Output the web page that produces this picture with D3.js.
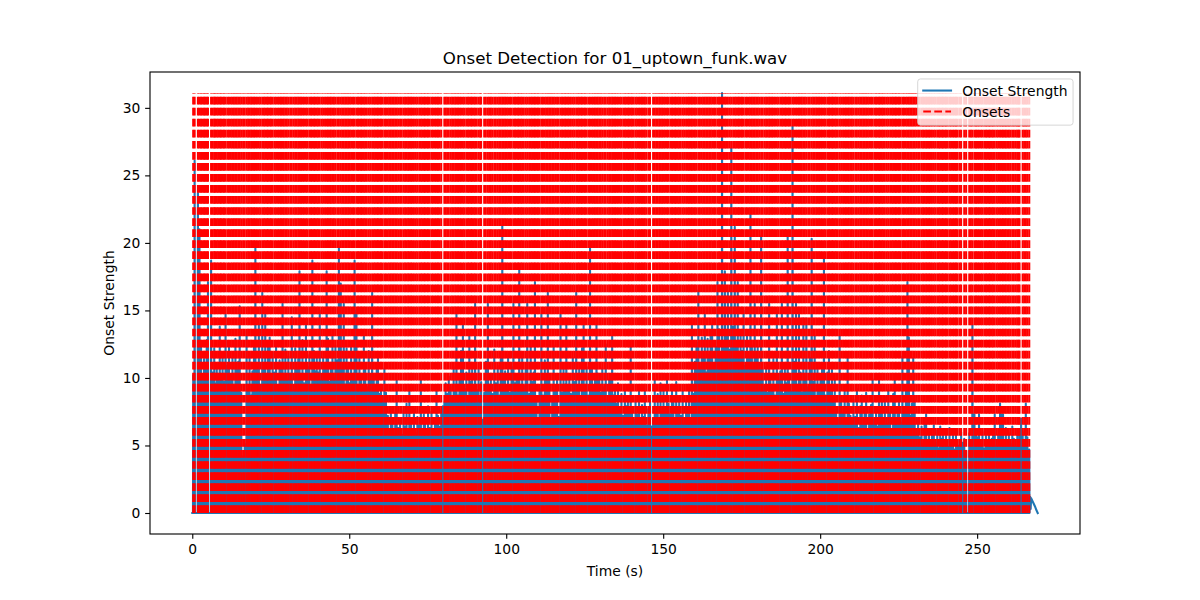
<!DOCTYPE html>
<html><head><meta charset="utf-8">
<script src="https://cdn.jsdelivr.net/npm/d3@7"></script>
<style>body{margin:0;background:#fff}svg{display:block}text{font-family:"DejaVu Sans",sans-serif}</style>
</head><body><svg id="c" width="1200" height="600"></svg>
<script>
const chartTitle = "Onset Detection for 01_uptown_funk.wav";
const xLabel = "Time (s)";
const yLabel = "Onset Strength";
const legendLabels = ["Onset Strength", "Onsets"];
const xTicks = [0, 50, 100, 150, 200, 250];
const yTicks = [0, 5, 10, 15, 20, 25, 30];

// detected onset times (s)
const onsetTimes = [
0.3,0.75,1.8,2.3,2.8,3.25,3.75,4.15,4.6,5.0,6.0,6.5,7.0,7.3,7.8,8.25,8.75,9.15,9.65,
10.1,10.6,11.2,11.7,12.3,12.8,13.25,13.75,14.15,14.65,15.1,15.6,16.2,16.7,17.3,17.8,18.25,18.75,19.15,19.65,
20.1,20.6,21.2,21.7,22.3,22.8,23.25,23.75,24.15,24.65,25.1,25.6,26.2,26.7,27.3,27.8,28.25,28.75,29.15,29.65,
30.1,30.6,31.2,31.7,32.3,32.8,33.25,33.75,34.15,34.65,35.1,35.6,36.2,36.7,37.3,37.8,38.25,38.75,39.15,39.65,
40.1,40.6,41.2,41.7,42.3,42.8,43.25,43.75,44.15,44.65,45.1,45.6,46.2,46.7,47.3,47.8,48.25,48.75,49.15,49.65,
50.1,50.6,51.2,51.7,52.3,52.8,53.25,53.75,54.15,54.65,55.1,55.6,56.2,56.7,57.3,57.8,58.25,58.75,59.15,59.65,
60.1,60.6,61.2,61.7,62.3,62.8,63.25,63.75,64.15,64.65,65.1,65.6,66.2,66.7,67.3,67.8,68.25,68.75,69.15,69.65,
70.1,70.6,71.2,71.7,72.3,72.8,73.25,73.75,74.15,74.65,75.1,75.6,76.2,76.7,77.3,77.8,78.25,78.75,79.3,
80.3,80.7,81.2,81.7,82.3,82.8,83.25,83.75,84.15,84.65,85.1,85.6,86.2,86.7,87.3,87.8,88.25,88.75,89.15,89.65,
90.1,90.6,91.2,91.7,92.0,93.0,93.5,94.15,94.65,95.1,95.6,96.2,96.7,97.3,97.8,98.25,98.75,99.15,99.65,
100.1,100.6,101.2,101.7,102.3,102.8,103.25,103.75,104.15,104.65,105.1,105.6,106.2,106.7,107.3,107.8,108.25,108.75,109.15,109.65,
110.1,110.6,111.2,111.7,112.3,112.8,113.25,113.75,114.15,114.65,115.1,115.6,116.2,116.7,117.3,117.8,118.25,118.75,119.15,119.65,
120.1,120.6,121.2,121.7,122.3,122.8,123.25,123.75,124.15,124.65,125.1,125.6,126.2,126.7,127.3,127.8,128.25,128.75,129.15,129.65,
130.1,130.6,131.2,131.7,132.3,132.8,133.25,133.75,134.15,134.65,135.1,135.6,136.2,136.7,137.3,137.8,138.25,138.75,139.15,139.65,
140.1,140.6,141.2,141.7,142.3,142.8,143.25,143.75,144.15,144.65,145.3,145.8,146.8,147.3,147.8,148.25,148.75,149.15,149.65,
150.1,150.6,151.2,151.7,152.3,152.8,153.25,153.75,154.15,154.65,155.1,155.6,156.2,156.7,157.3,157.8,158.25,158.75,159.15,159.65,
160.1,160.6,161.2,161.7,162.3,162.8,163.25,163.75,164.15,164.65,165.1,165.6,166.2,166.7,167.3,167.8,168.25,168.75,169.15,169.65,
170.1,170.6,171.2,171.7,172.3,172.8,173.25,173.75,174.15,174.65,175.1,175.6,176.2,176.7,177.3,177.8,178.25,178.75,179.15,179.65,
180.1,180.6,181.2,181.7,182.3,182.8,183.25,183.75,184.15,184.65,185.1,185.6,186.2,186.7,187.3,187.8,188.25,188.75,189.15,189.65,
190.1,190.6,191.2,191.7,192.3,192.8,193.25,193.75,194.15,194.65,195.1,195.6,196.2,196.7,197.3,197.8,198.25,198.75,199.15,199.65,
200.1,200.6,201.2,201.7,202.3,202.8,203.25,203.75,204.15,204.65,205.1,205.6,206.2,206.7,207.3,207.8,208.25,208.75,209.15,209.65,
210.1,210.6,211.2,211.7,212.3,212.8,213.25,213.75,214.15,214.65,215.1,215.6,216.2,216.7,217.3,217.8,218.25,218.75,219.15,219.65,
220.1,220.6,221.2,221.7,222.3,222.8,223.25,223.75,224.15,224.65,225.1,225.6,226.2,226.7,227.3,227.8,228.25,228.75,229.15,229.65,
230.1,230.6,231.2,231.7,232.3,232.8,233.25,233.75,234.15,234.65,235.1,235.6,236.2,236.7,237.3,237.8,238.25,238.75,239.15,239.65,
240.1,240.6,241.2,241.7,242.3,242.8,243.25,243.75,244.4,244.9,245.9,246.5,247.5,248.0,248.5,249.15,249.65,
250.1,250.6,251.2,251.7,252.3,252.8,253.25,253.75,254.15,254.65,255.1,255.6,256.2,256.7,257.3,257.8,258.25,258.75,259.15,259.65,
260.1,260.6,261.2,261.7,262.3,262.8,263.2,263.5,264.5,265.0,265.5,266.0,266.6
];
// onset strength at each onset (peak of the envelope)
const onsetStrength = [
10.2,26.1,23.7,21.0,12.5,9.8,11.4,10.6,12.8,17.1,18.7,10.4,12.2,9.6,11.0,10.1,13.8,9.9,11.7,
9.7,14.7,10.9,12.3,10.2,11.5,9.4,12.9,10.6,11.2,15.3,8.9,4.2,5.1,13.5,9.2,11.8,8.7,10.5,12.4,
19.6,10.8,14.0,9.5,16.3,11.1,15.2,10.0,12.6,13.0,9.8,11.9,10.4,12.7,9.3,11.3,10.9,15.5,10.2,12.1,
9.9,11.6,10.3,14.5,9.1,12.2,10.7,11.4,17.9,10.1,12.8,9.6,14.1,10.8,11.7,9.4,18.7,12.0,10.5,11.9,
10.4,15.0,9.8,11.5,11.0,17.9,12.9,9.7,11.1,13.2,10.0,12.4,11.3,19.7,17.0,10.6,15.5,9.5,12.2,10.8,
9.6,12.7,10.3,18.7,15.0,9.4,11.8,10.1,9.0,13.1,10.7,9.3,12.0,9.8,16.3,10.2,9.1,10.6,11.5,8.8,
9.4,8.6,10.7,8.9,7.2,6.1,7.8,6.6,5.9,7.4,9.8,6.3,7.0,5.8,7.6,6.4,8.1,6.0,9.1,6.9,
6.2,7.7,5.9,7.1,6.5,9.9,6.0,7.3,6.8,5.7,7.9,6.3,7.5,6.1,6.9,9.1,7.2,6.4,7.6,
8.2,9.6,8.8,10.1,9.3,8.5,10.8,9.0,14.7,8.7,9.9,12.0,14.0,9.2,10.4,8.6,13.1,9.7,11.0,9.4,
15.5,9.1,10.6,8.4,9.7,8.9,11.2,15.5,9.5,10.3,8.8,12.1,9.6,10.9,8.7,11.4,21.3,9.9,10.5,
9.3,11.7,8.9,10.8,15.5,9.6,9.9,10.2,18.0,9.0,11.9,9.4,10.6,15.5,8.8,12.3,9.7,10.4,17.1,8.6,
7.0,9.2,14.7,8.7,11.3,9.9,16.3,9.8,6.8,8.6,12.4,9.1,10.2,7.1,14.7,8.9,10.7,9.5,14.0,9.3,
10.1,8.8,11.5,9.7,16.3,9.0,10.6,8.5,12.2,14.0,9.4,10.8,8.7,19.6,11.1,9.2,9.9,14.0,10.3,9.8,
8.9,10.7,9.3,12.5,8.4,9.9,10.2,13.1,8.7,9.0,8.1,9.6,7.6,8.8,7.2,9.1,7.9,8.3,7.4,12.3,
7.8,6.9,8.6,7.3,9.4,6.7,8.0,7.1,9.0,6.5,7.7,8.3,7.0,9.9,7.4,8.8,6.8,9.6,7.5,
9.2,7.6,9.9,8.1,7.3,9.5,8.4,6.9,9.7,7.8,8.6,7.2,9.0,6.6,8.3,7.5,9.3,7.0,14.0,8.8,
11.2,12.6,16.5,10.8,13.0,11.5,14.7,10.4,12.9,11.7,13.4,14.0,10.9,12.3,17.1,13.6,11.8,31.1,12.5,17.9,
13.2,16.4,12.1,27.0,13.8,21.2,12.7,17.1,11.4,13.5,12.0,15.0,10.9,13.1,11.6,22.1,12.4,10.7,15.5,11.9,
12.3,11.1,20.5,10.6,9.4,10.8,8.9,15.5,10.2,9.1,11.4,8.7,15.0,9.8,10.5,15.5,8.8,11.0,9.6,20.5,
10.3,9.0,28.6,11.2,15.5,9.5,15.0,10.4,8.9,14.4,10.1,14.4,9.3,11.5,20.3,9.7,13.1,8.6,10.8,9.2,
9.8,10.9,18.9,8.7,10.4,12.0,9.1,10.6,8.5,9.9,7.8,6.9,13.1,8.2,7.4,9.0,6.7,11.6,8.1,7.2,
6.8,8.4,7.1,9.2,6.3,7.9,8.7,6.5,7.6,8.9,6.1,7.3,8.0,9.9,6.9,7.7,6.4,9.8,7.5,8.3,
7.0,8.6,6.6,9.1,7.4,6.2,8.8,10.0,6.9,7.8,8.3,6.7,11.6,7.5,9.3,17.1,13.0,7.2,8.1,11.5,
8.6,6.2,7.0,5.6,6.4,5.1,6.7,7.3,5.4,6.0,4.9,5.8,6.5,5.2,6.1,4.8,6.4,5.5,5.9,5.0,
5.7,4.9,6.3,5.2,5.8,4.7,6.1,5.4,5.0,6.0,5.5,4.6,5.9,5.3,13.9,7.3,6.2,
5.6,7.3,5.1,6.0,4.8,5.7,5.3,6.2,4.9,5.5,6.1,7.3,5.0,5.8,8.1,7.3,7.3,5.4,6.3,5.2,
5.9,5.1,6.4,5.5,4.9,6.2,5.3,5.8,6.0,5.4,8.1,5.6,4.7
];
// envelope peaks between onsets that did not trigger an onset
const gapPeakTimes = [79.8, 92.5, 146.3, 245.4, 264.0];
const gapPeakValues = [7.9, 6.9, 6.4, 5.2, 7.0];
// start and decaying tail of the envelope
const edgeTimes = [0, 266.9, 267.05, 267.2, 267.8, 268.4, 268.9, 269.3];
const edgeValues = [0, 1.2, 0.3, 1.1, 0.8, 0.5, 0.2, 0];

// ---------- layout / style ----------
const PT = 100 / 72;
const L = 150, R = 1080, T = 72, B = 534;
const lw = 1.5 * PT;
const spikeHalfWidth = 0.08;
const blue = "#1f77b4", red = "#ff0000";
const dash = [3.7 * 1.5 * PT, 1.6 * 1.5 * PT];
const fs = 10 * PT;

const n = Math.min(onsetTimes.length, onsetStrength.length);
const pts = [];
for (let i = 0; i < n; i++) {
  const t = onsetTimes[i], v = onsetStrength[i];
  pts.push([t - spikeHalfWidth, 0], [t, v], [t + spikeHalfWidth, 0]);
}
gapPeakTimes.forEach((t, i) => pts.push([t - spikeHalfWidth, 0], [t, gapPeakValues[i]], [t + spikeHalfWidth, 0]));
edgeTimes.forEach((t, i) => pts.push([t, edgeValues[i]]));
pts.sort((a, b) => a[0] - b[0]);

const xExt = d3.extent(pts, d => d[0]);
const yMax = d3.max(pts, d => d[1]);
const yExt = [0, yMax];
const xm = (xExt[1] - xExt[0]) * 0.05, ym = (yExt[1] - yExt[0]) * 0.05;
const x = d3.scaleLinear().domain([xExt[0] - xm, xExt[1] + xm]).range([L, R]);
const y = d3.scaleLinear().domain([yExt[0] - ym, yExt[1] + ym]).range([B, T]);

const svg = d3.select("#c");
svg.append("rect").attr("width", 1200).attr("height", 600).attr("fill", "#fff");
svg.append("clipPath").attr("id", "clip").append("rect")
  .attr("x", L).attr("y", T).attr("width", R - L).attr("height", B - T);
const plot = svg.append("g").attr("clip-path", "url(#clip)");

plot.append("path").datum(pts)
  .attr("d", d3.line().x(d => x(d[0])).y(d => y(d[1])))
  .attr("fill", "none").attr("stroke", blue).attr("stroke-width", lw)
  .attr("stroke-linejoin", "round").attr("stroke-linecap", "square");

plot.append("g").selectAll("line").data(onsetTimes.slice(0, n)).join("line")
  .attr("x1", d => x(d)).attr("x2", d => x(d))
  .attr("y1", y(0)).attr("y2", y(yMax))
  .attr("stroke", red).attr("stroke-width", lw)
  .attr("stroke-dasharray", dash.join(" "));

// axes
const tick = 3.5 * PT, pad = 3.5 * PT;
const xa = svg.append("g").attr("transform", `translate(0,${B})`)
  .call(d3.axisBottom(x).tickValues(xTicks).tickSizeInner(tick).tickSizeOuter(0).tickPadding(pad).tickFormat(d3.format("d")));
const ya = svg.append("g").attr("transform", `translate(${L},0)`)
  .call(d3.axisLeft(y).tickValues(yTicks).tickSizeInner(tick).tickSizeOuter(0).tickPadding(pad).tickFormat(d3.format("d")));
[xa, ya].forEach(a => {
  a.select(".domain").remove();
  a.selectAll(".tick line").attr("stroke", "#000").attr("stroke-width", 0.8 * PT);
  a.selectAll(".tick text").attr("font-family", "DejaVu Sans").attr("font-size", fs).attr("fill", "#000");
});
svg.append("rect").attr("x", L).attr("y", T).attr("width", R - L).attr("height", B - T)
  .attr("fill", "none").attr("stroke", "#000").attr("stroke-width", 0.8 * PT);

svg.append("text").attr("x", (L + R) / 2).attr("y", T - 6 * PT).attr("text-anchor", "middle")
  .attr("font-size", 12 * PT).text(chartTitle);
svg.append("text").attr("x", (L + R) / 2).attr("y", 576).attr("text-anchor", "middle")
  .attr("font-size", fs).text(xLabel);
svg.append("text").attr("transform", `translate(113.5,${(T + B) / 2}) rotate(-90)`).attr("text-anchor", "middle")
  .attr("font-size", fs).text(yLabel);

// legend
const lg = svg.append("g");
const frame = lg.append("rect");
const texts = legendLabels.map((s, i) => lg.append("text").attr("font-size", fs).text(s));
const tw = d3.max(texts, t => t.node().getComputedTextLength());
const bp = 0.4 * fs, hl = 2 * fs, htp = 0.8 * fs, bap = 0.5 * fs;
const boxW = bp * 2 + hl + htp + tw, boxH = 46.2;
const bx = R - bap - boxW, by = T + bap;
frame.attr("x", bx).attr("y", by).attr("width", boxW).attr("height", boxH)
  .attr("rx", 0.2 * fs).attr("fill", "#fff").attr("fill-opacity", 0.8)
  .attr("stroke", "#ccc").attr("stroke-opacity", 0.8).attr("stroke-width", 1);
const rowY = [by + 11.6, by + 32.6];
lg.insert("line", "text").attr("x1", bx + bp).attr("x2", bx + bp + hl).attr("y1", rowY[0]).attr("y2", rowY[0])
  .attr("stroke", blue).attr("stroke-width", lw).attr("stroke-linecap", "square");
lg.insert("line", "text").attr("x1", bx + bp).attr("x2", bx + bp + hl).attr("y1", rowY[1]).attr("y2", rowY[1])
  .attr("stroke", red).attr("stroke-width", lw).attr("stroke-dasharray", dash.join(" "));
texts.forEach((t, i) => t.attr("x", bx + bp + hl + htp).attr("y", rowY[i] + 5));
</script></body></html>
